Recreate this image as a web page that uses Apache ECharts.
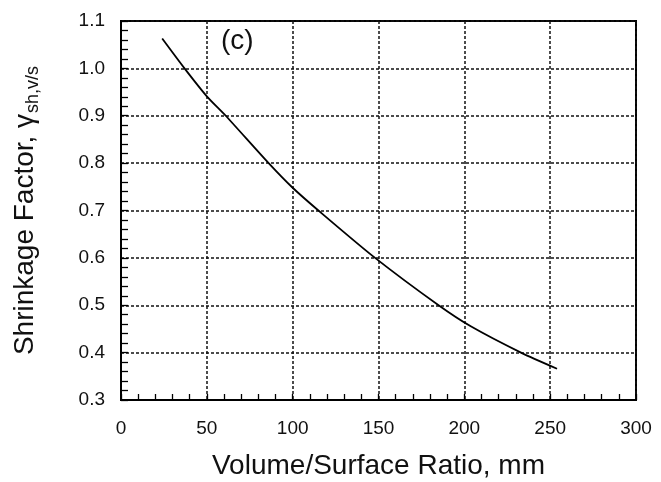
<!DOCTYPE html>
<html>
<head>
<meta charset="utf-8">
<script src="https://cdn.jsdelivr.net/npm/echarts@6/dist/echarts.min.js"></script>
<style>
  html, body { margin: 0; padding: 0; background: #fff; }
  #chart { width: 661px; height: 482px; }
</style>
</head>
<body>
<div id="chart"></div>
<script>
// values (volume/surface ratio in mm, shrinkage factor)
const ratioMM = [24, 37, 50, 61, 86, 100, 115, 148, 185, 204, 233, 254];
const shrinkFactor = [1.063, 1.0, 0.941, 0.9, 0.8, 0.748, 0.7, 0.6, 0.5, 0.455, 0.4, 0.366];

const font = "'Liberation Sans', Arial, sans-serif";
const gridLine = { show: true, lineStyle: { color: "#111", type: [3, 2], width: 1.5 } };

var myChart = echarts.init(document.getElementById("chart"));

myChart.setOption({
  animation: false,
  grid: {
    left: 121, right: 25, top: 21, bottom: 82,
    outerBoundsMode: "none",
    show: true, borderColor: "#000", borderWidth: 2,
  },
  xAxis: {
    type: "value",
    min: 0, max: 300, interval: 50,
    name: "Volume/Surface Ratio, mm",
    nameLocation: "middle",
    nameGap: 52,
    nameTextStyle: { fontFamily: font, fontSize: 28, color: "#111" },
    axisLine: { lineStyle: { color: "#000", width: 2 } },
    axisTick: { show: true, inside: true, length: 6, lineStyle: { color: "#000", width: 1.3 } },
    minorTick: { show: true, splitNumber: 5, length: 6, lineStyle: { color: "#000", width: 1.3 } },
    axisLabel: { fontFamily: font, fontSize: 19, color: "#111", margin: 19 },
    splitLine: gridLine,
  },
  yAxis: {
    type: "value",
    min: 0.3, max: 1.1, interval: 0.1,
    name: "{a|Shrinkage Factor, }{g|γ}{s|sh,v/s}",
    nameLocation: "middle",
    nameGap: 80,
    nameTextStyle: {
      fontFamily: font, color: "#111",
      rich: {
        a: { fontFamily: font, fontSize: 28, color: "#111", lineHeight: 32 },
        g: { fontFamily: font, fontSize: 28, color: "#111", lineHeight: 32 },
        s: { fontFamily: font, fontSize: 18, color: "#111", lineHeight: 32, padding: [16, 0, 0, 1] },
      },
    },
    axisLine: { lineStyle: { color: "#000", width: 2 } },
    axisTick: { show: true, inside: true, length: 7, lineStyle: { color: "#000", width: 1.3 } },
    minorTick: { show: true, splitNumber: 5, length: 7, lineStyle: { color: "#000", width: 1.3 } },
    axisLabel: {
      fontFamily: font, fontSize: 19, color: "#111", margin: 16,
      formatter: (v) => v.toFixed(1),
    },
    splitLine: gridLine,
  },
  graphic: [
    {
      type: "text", left: 221, top: 27,
      style: { text: "(c)", font: "28px " + font, fill: "#111" },
    },
  ],
  series: [
    {
      type: "line",
      data: ratioMM.map((x, i) => [x, shrinkFactor[i]]),
      smooth: 0.25,
      showSymbol: false,
      lineStyle: { color: "#000", width: 1.8 },
    },
  ],
});
</script>
</body>
</html>
